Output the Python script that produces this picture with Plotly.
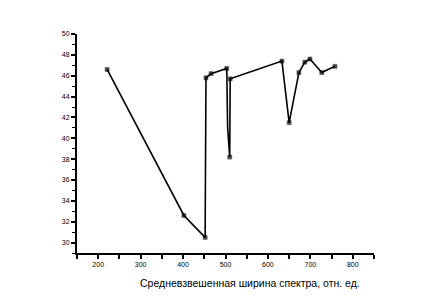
import plotly.graph_objects as go

x_vals = [221, 402, 452, 453, 454, 466, 503, 505, 510, 511, 633, 650, 673, 687, 699, 727, 758]
y_vals = [46.6, 32.6, 30.5, 38.1, 45.8, 46.2, 46.7, 41.0, 38.2, 45.7, 47.4, 41.5, 46.3, 47.3, 47.6, 46.3, 46.9]
x_title = "Средневзвешенная ширина спектра, отн. ед."

# markers only on measured points (bends without markers get size 0)
marker_sizes = [4 if i not in (3, 7) else 0 for i in range(len(x_vals))]

fig = go.Figure()
fig.add_trace(go.Scatter(
    x=x_vals, y=y_vals, mode="lines+markers",
    line=dict(color="black", width=1.6),
    marker=dict(symbol="square", size=marker_sizes, color="black",
                line=dict(color="black", width=0.6)),
    showlegend=False,
))

axis_common = dict(
    showline=True, linecolor="black", linewidth=2,
    showgrid=False, zeroline=False,
    ticks="outside", ticklen=4, tickwidth=1.5, tickcolor="black",
    tickfont=dict(family="Liberation Sans, Arial", size=7, color="black"),
)

fig.update_layout(
    width=434, height=305,
    margin=dict(l=77, r=60, t=34, b=52),
    paper_bgcolor="white", plot_bgcolor="white",
    xaxis=dict(range=[150, 850], tick0=200, dtick=100,
               minor=dict(ticks="outside", dtick=50, tick0=150, ticklen=4, tickwidth=1.5, tickcolor="black"),
               **axis_common),
    yaxis=dict(range=[29, 50], tick0=30, dtick=2,
               minor=dict(ticks="outside", dtick=1, tick0=29, ticklen=3, tickwidth=1, tickcolor="black"),
               **axis_common),
    annotations=[dict(
        text=x_title, xref="paper", yref="paper",
        x=(250 - 77) / 297, y=-30 / 219, xanchor="center", yanchor="middle",
        showarrow=False,
        font=dict(family="Liberation Sans, Arial", size=10.5, color="black"),
    )],
)

fig.write_html("out.html")
